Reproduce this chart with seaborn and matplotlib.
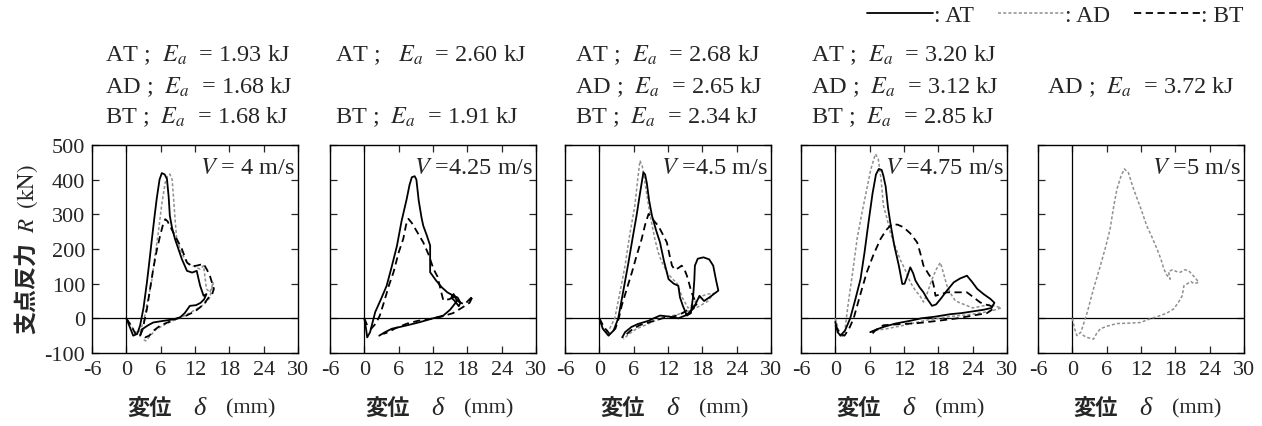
import numpy as np
import pandas as pd
import matplotlib
matplotlib.use("Agg")
import matplotlib.pyplot as plt
from matplotlib.lines import Line2D
import seaborn as sns

# ---------------- data ----------------
x_ticks = [-6, 0, 6, 12, 18, 24, 30]
y_ticks = [-100, 0, 100, 200, 300, 400, 500]
speed_labels = ["$V$ = 4 m/s", "$V$ =4.25 m/s", "$V$ =4.5 m/s", "$V$ =4.75 m/s", "$V$ =5 m/s"]
header_lines = [
    ["AT ;  $E_a$  = 1.93 kJ", "AD ;  $E_a$  = 1.68 kJ", "BT ;  $E_a$  = 1.68 kJ"],
    ["AT ;   $E_a$  = 2.60 kJ", "", "BT ;  $E_a$  = 1.91 kJ"],
    ["AT ;  $E_a$  = 2.68 kJ", "AD ;  $E_a$  = 2.65 kJ", "BT ;  $E_a$  = 2.34 kJ"],
    ["AT ;  $E_a$  = 3.20 kJ", "AD ;  $E_a$  = 3.12 kJ", "BT ;  $E_a$  = 2.85 kJ"],
    ["", "AD ;  $E_a$  = 3.72 kJ", ""],
]
series_names = ["AT", "AD", "BT"]
xlabel_parts = ["変位", "δ", "(mm)"]

# V = 4 m/s
at1_x = [0, 0.6, 1.2, 1.9, 2.4, 3.0, 3.6, 4.0, 4.4, 4.9, 5.3, 5.8, 6.2, 6.7, 7.1, 7.4, 7.6, 8.0, 8.5, 9.1, 9.7, 10.6, 11.5, 12.3, 12.6, 12.9, 13.5, 14.0, 13.6, 13.0, 12.2, 11.1, 10.2, 9.4, 8.2, 7.0, 5.8, 4.7, 3.8, 2.9, 2.4]
at1_y = [0, -25, -50, -45, -21, 30, 104, 160, 219, 290, 344, 400, 419, 415, 402, 350, 296, 260, 229, 200, 171, 137, 132, 137, 115, 94, 65, 70, 55, 45, 38, 36, 15, 3, -3, -6, -9, -12, -20, -30, -50]
ad1_x = [0, 0.8, 1.6, 2.3, 3.0, 3.6, 4.0, 4.4, 5.0, 5.6, 6.2, 6.8, 7.2, 7.6, 8.0, 8.2, 8.5, 8.8, 9.6, 10.6, 11.8, 12.9, 13.5, 14.0, 14.6, 15.2, 14.6, 13.6, 12.4, 11.0, 9.5, 8.0, 6.5, 5.2, 4.2, 3.4, 2.8]
ad1_y = [0, -20, -40, -40, -10, 40, 70, 104, 180, 248, 330, 392, 410, 416, 400, 360, 290, 229, 190, 161, 150, 142, 152, 85, 75, 104, 60, 40, 28, 15, 2, -8, -20, -32, -50, -65, -60]
bt1_x = [0, 0.8, 1.6, 2.4, 3.0, 3.6, 4.1, 4.7, 5.3, 5.9, 6.4, 6.8, 7.2, 7.6, 8.2, 8.8, 9.7, 10.6, 11.4, 12.3, 13.0, 13.5, 14.1, 14.6, 15.3, 15.0, 14.6, 13.5, 12.0, 10.5, 9.0, 7.5, 6.0, 4.8, 4.0, 3.3, 2.8]
bt1_y = [0, -20, -45, -50, -20, 27, 80, 142, 195, 238, 270, 286, 280, 267, 248, 229, 200, 161, 150, 152, 155, 157, 140, 123, 85, 70, 65, 40, 20, 8, 0, -10, -20, -35, -50, -55, -50]

# V = 4.25 m/s
at2_x = [0, 0.3, 0.5, 1.0, 1.9, 2.9, 3.9, 4.8, 5.7, 6.5, 7.4, 7.9, 8.3, 8.8, 9.1, 9.5, 10.0, 10.3, 10.9, 11.5, 11.5, 12.5, 13.5, 14.5, 15.6, 16.3, 16.8, 16.5, 15.8, 15.2, 15.6, 16.2, 15.0, 13.8, 12.0, 9.7, 8.0, 6.2, 4.8, 3.6, 2.6]
at2_y = [0, -30, -55, -40, 18, 55, 94, 150, 209, 280, 344, 385, 407, 410, 400, 340, 290, 267, 240, 210, 133, 110, 90, 75, 65, 60, 45, 35, 50, 60, 70, 50, 25, 8, 0, -11, -18, -25, -30, -40, -50]
bt2_x = [0, 0.5, 1.2, 2.0, 2.7, 3.5, 4.3, 5.1, 6.0, 6.8, 7.3, 7.7, 8.3, 9.2, 10.3, 11.2, 12.1, 12.8, 13.3, 13.8, 14.8, 15.8, 16.5, 17.5, 18.4, 19.0, 18.4, 17.0, 15.5, 13.5, 11.4, 9.4, 7.5, 5.5, 4.2, 3.3]
bt2_y = [0, -20, -30, -15, 8, 50, 95, 133, 190, 229, 270, 287, 275, 250, 219, 185, 142, 120, 85, 52, 55, 62, 48, 40, 55, 65, 45, 30, 15, 5, -2, -7, -15, -28, -40, -45]

# V = 4.5 m/s
at3_x = [0, 0.6, 1.6, 2.5, 3.3, 4.2, 5.1, 5.8, 6.5, 7.1, 7.7, 8.0, 8.3, 8.7, 9.2, 9.9, 10.6, 11.3, 12.1, 13.0, 13.8, 14.1, 14.6, 15.3, 16.0, 16.4, 16.6, 16.7, 17.2, 18.2, 19.2, 19.9, 20.4, 20.8, 20.0, 19.2, 18.3, 17.5, 16.5, 15.3, 13.8, 12.2, 10.6, 9.5, 8.6, 6.8, 5.6, 4.5, 4.0]
at3_y = [0, -30, -50, -35, 0, 80, 162, 230, 296, 360, 421, 415, 390, 340, 296, 255, 219, 165, 113, 100, 94, 60, 36, 8, 15, 65, 110, 152, 172, 176, 170, 152, 110, 80, 70, 60, 50, 65, 30, 10, 0, 5, 8, 0, -7, -16, -25, -40, -55]
ad3_x = [0, 0.5, 1.0, 1.8, 2.7, 3.6, 4.5, 5.3, 6.2, 6.7, 7.1, 7.5, 8.0, 8.6, 9.2, 9.7, 10.3, 10.8, 11.9, 13.0, 13.5, 14.5, 15.5, 16.3, 17.2, 18.0, 19.0, 20.0, 19.0, 17.5, 15.5, 13.5, 12.0, 10.0, 8.0, 6.5, 5.2, 4.2]
ad3_y = [0, -20, -40, -30, 0, 75, 152, 240, 325, 400, 455, 440, 390, 325, 270, 229, 190, 167, 130, 110, 104, 60, 30, 40, 55, 65, 70, 72, 50, 35, 20, 10, 5, -5, -20, -30, -45, -60]
bt3_x = [0, 0.8, 1.8, 2.8, 3.4, 3.9, 4.8, 5.7, 6.5, 7.4, 8.0, 8.6, 9.0, 9.6, 10.3, 11.0, 11.8, 12.3, 12.7, 13.2, 13.8, 14.4, 14.9, 15.3, 15.7, 16.1, 17.0, 16.0, 14.5, 13.0, 11.0, 9.0, 7.0, 5.5, 4.5, 4.0]
bt3_y = [0, -25, -45, -30, 0, 36, 85, 133, 180, 229, 270, 301, 295, 280, 267, 245, 219, 180, 152, 140, 145, 152, 140, 123, 100, 75, 40, 30, 15, 5, 0, -10, -20, -35, -50, -55]

# V = 4.75 m/s
at4_x = [0, 0.4, 0.9, 1.7, 2.6, 3.5, 4.4, 5.1, 5.8, 6.5, 7.1, 7.6, 8.1, 8.4, 8.8, 9.2, 9.6, 10.3, 11.1, 11.7, 12.1, 12.5, 13.1, 13.6, 14.0, 14.7, 15.4, 16.1, 16.9, 17.6, 18.4, 19.5, 20.7, 21.8, 23.0, 23.9, 24.8, 25.9, 27.1, 27.8, 27.3, 26.0, 24.0, 22.0, 20.1, 17.5, 15.0, 13.1, 10.5, 8.4, 7.2, 6.1]
at4_y = [-10, -40, -50, -35, 0, 55, 113, 190, 277, 360, 415, 431, 428, 411, 380, 320, 277, 210, 152, 99, 100, 118, 147, 130, 109, 90, 75, 55, 36, 40, 56, 80, 104, 115, 123, 105, 85, 70, 56, 45, 30, 25, 20, 15, 12, 5, 0, -7, -15, -25, -32, -40]
ad4_x = [0, 0.5, 1.0, 1.6, 2.2, 3.0, 3.8, 4.6, 5.5, 6.2, 7.0, 7.5, 8.0, 8.4, 9.0, 9.6, 10.4, 11.3, 12.2, 13.1, 14.0, 14.8, 15.4, 16.0, 16.9, 17.6, 18.35, 18.9, 19.5, 20.2, 21.0, 22.5, 24.0, 25.5, 27.0, 28.0, 29.0, 27.0, 24.0, 20.0, 16.0, 12.0, 9.0, 7.0, 6.0]
ad4_y = [0, -30, -55, -45, 36, 130, 229, 300, 373, 430, 474, 460, 400, 325, 290, 248, 210, 171, 140, 104, 80, 65, 47, 70, 113, 140, 161, 130, 94, 70, 50, 40, 30, 35, 40, 35, 30, 20, 12, 5, -5, -20, -30, -35, -40]
bt4_x = [0, 0.8, 1.6, 2.4, 3.2, 4.3, 5.5, 6.7, 7.9, 8.9, 9.9, 10.9, 11.9, 13.1, 14.3, 14.9, 15.4, 16.2, 16.9, 17.2, 17.5, 18.5, 19.5, 21.2, 23.0, 24.2, 25.3, 26.2, 27.0, 27.8, 26.5, 24.0, 21.3, 18.0, 14.3, 11.0, 8.4, 7.0, 6.1]
bt4_y = [-20, -45, -50, -30, 0, 65, 133, 185, 229, 255, 272, 270, 263, 245, 219, 185, 152, 130, 113, 94, 65, 70, 75, 75, 75, 60, 46, 40, 37, 30, 15, 8, 0, -7, -14, -17, -20, -35, -50]

# V = 5 m/s
ad5_x = [0, 0.4, 0.8, 1.5, 2.6, 3.7, 4.9, 5.8, 6.6, 7.2, 7.8, 8.5, 9.1, 9.8, 10.7, 11.9, 13.0, 13.9, 14.8, 15.5, 16.0, 16.5, 17.1, 16.8, 17.5, 18.2, 18.9, 19.6, 20.3, 21.2, 22.1, 21.3, 20.7, 19.5, 19.2, 18.5, 17.7, 16.5, 15.4, 13.5, 11.9, 9.8, 7.8, 6.2, 4.9, 4.2, 3.7, 2.5, 1.5]
ad5_y = [0, -30, -50, -40, 17, 85, 152, 205, 258, 320, 373, 410, 431, 420, 373, 320, 267, 235, 200, 170, 142, 125, 113, 135, 140, 135, 133, 140, 138, 122, 104, 100, 106, 94, 65, 45, 27, 15, 8, -2, -12, -14, -15, -22, -30, -45, -60, -55, -45]

panels = [
    {"AT": (at1_x, at1_y), "AD": (ad1_x, ad1_y), "BT": (bt1_x, bt1_y)},
    {"AT": (at2_x, at2_y), "BT": (bt2_x, bt2_y)},
    {"AT": (at3_x, at3_y), "AD": (ad3_x, ad3_y), "BT": (bt3_x, bt3_y)},
    {"AT": (at4_x, at4_y), "AD": (ad4_x, ad4_y), "BT": (bt4_x, bt4_y)},
    {"AD": (ad5_x, ad5_y)},
]

# ---------------- style ----------------
sns.set_style("ticks")
plt.rcParams["font.family"] = ["Liberation Serif", "DejaVu Serif"]
plt.rcParams["mathtext.fontset"] = "stix"
plt.rcParams["axes.unicode_minus"] = False
CJK = ["Noto Sans CJK JP", "DejaVu Sans"]

styles = {
    "AT": dict(color="black", linestyle="-", linewidth=1.3),
    "AD": dict(color="#8f8f8f", linestyle=(0, (2.0, 1.4)), linewidth=1.1),
    "BT": dict(color="black", linestyle=(0, (4.0, 2.5)), linewidth=1.3),
}

W, H = 1262, 427
fig = plt.figure(figsize=(W / 100, H / 100), dpi=100)
lefts_px = [92, 330, 565, 801, 1038]
ax_w_px, ax_top_px, ax_bot_px = 206, 146, 354
header_dx = [13, 5, 10, 10, 9]
line_px = [55, 87, 117]
xlabel_y_px = 409

for i, (lp, data) in enumerate(zip(lefts_px, panels)):
    ax = fig.add_axes([lp / W, 1 - ax_bot_px / H, ax_w_px / W, (ax_bot_px - ax_top_px) / H])
    ax.axhline(0, color="black", lw=0.9, zorder=1)
    ax.axvline(0, color="black", lw=0.9, zorder=1)
    for name in ["AD", "BT", "AT"]:
        if name not in data:
            continue
        xs, ys = data[name]
        df = pd.DataFrame({"x": xs, "y": ys})
        sns.lineplot(data=df, x="x", y="y", sort=False, estimator=None, ax=ax, **styles[name])
    ax.set_xlim(-6, 30)
    ax.set_ylim(-100, 500)
    ax.set_xticks(x_ticks)
    ax.set_yticks(y_ticks)
    ax.tick_params(direction="in", top=True, right=True, length=5, width=0.9,
                   labelsize=16, pad=5)
    if i > 0:
        ax.set_yticklabels([])
    for sp in ax.spines.values():
        sp.set_linewidth(1.0)
        sp.set_color("black")
    ax.set_xlabel("")
    # x label in three pieces: CJK, italic delta, unit
    cx = lp + ax_w_px / 2
    yy = 1 - xlabel_y_px / H
    fig.text((cx - 68) / W, yy, xlabel_parts[0], family=CJK, fontsize=16,
             fontweight="bold", ha="left", va="center")
    fig.text((cx - 2) / W, yy, xlabel_parts[1], fontsize=19, fontstyle="italic",
             ha="left", va="center")
    fig.text((cx + 31) / W, yy, xlabel_parts[2], fontsize=16, ha="left", va="center")
    if i == 0:
        ax.set_ylabel("支点反力  $R$  $\\mathrm{(kN)}$", family=CJK, fontsize=16.5,
                      fontweight="bold", labelpad=3)
    else:
        ax.set_ylabel("")
    ax.text(0.985, 0.894, speed_labels[i], transform=ax.transAxes, ha="right",
            va="center", fontsize=17.5)
    for j, txt in enumerate(header_lines[i]):
        if txt:
            fig.text((lp + header_dx[i]) / W, 1 - line_px[j] / H, txt,
                     ha="left", va="center", fontsize=17.5)

handles = [Line2D([], [], **styles[n]) for n in series_names]
fig.legend(handles, [": " + n for n in series_names], loc="center right",
           bbox_to_anchor=(1260 / W, 1 - 16 / H), ncol=3, frameon=False,
           fontsize=17, handlelength=2.8, handletextpad=0.05, columnspacing=1.0,
           borderpad=0.2)

fig.savefig("out.png", dpi=100)
